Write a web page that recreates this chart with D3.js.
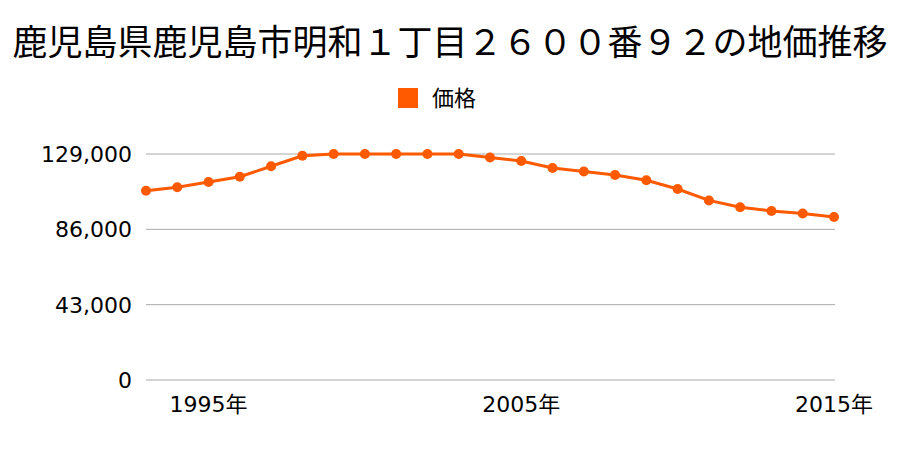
<!DOCTYPE html>
<html><head><meta charset="utf-8">
<script src="https://cdn.jsdelivr.net/npm/d3@7"></script>
<style>body{margin:0;background:#fff;}svg{display:block;}</style>
</head><body>
<svg id="c" width="900" height="450"></svg>
<script>
const title = "鹿児島県鹿児島市明和１丁目２６００番９２の地価推移";
const seriesName = "価格";
const years = [1993,1994,1995,1996,1997,1998,1999,2000,2001,2002,2003,2004,2005,2006,2007,2008,2009,2010,2011,2012,2013,2014,2015];
const prices = [108000,110000,113000,116000,122000,128000,129000,129000,129000,129000,129000,127000,125000,121000,119000,117000,114000,109000,102500,98600,96500,95000,93000];
const yTicks = [0,43000,86000,129000];
const xTickYears = [1995,2005,2015];

const color = "#ff5a00";
const cjk = "'Noto Sans CJK JP', sans-serif";
const num = "'DejaVu Sans', 'Noto Sans CJK JP', sans-serif";
const svg = d3.select("#c");

const x = d3.scaleLinear().domain([1993,2015]).range([146,834]);
const y = d3.scaleLinear().domain([0,129000]).range([380,154]);

svg.append("text").attr("x",450).attr("y",55).attr("text-anchor","middle")
  .attr("font-family",cjk).attr("font-size",35).attr("fill","#000").text(title);

svg.append("rect").attr("x",398).attr("y",88).attr("width",20).attr("height",20).attr("fill",color);
svg.append("text").attr("x",432).attr("y",106).attr("font-family",cjk).attr("font-size",22).attr("fill","#000").text(seriesName);

const gy = svg.append("g");
yTicks.forEach(t=>{
  gy.append("line").attr("x1",146).attr("x2",835).attr("y1",y(t)).attr("y2",y(t)).attr("stroke","#aaaaaa").attr("stroke-width",1);
  gy.append("text").attr("x",132).attr("y",y(t)).attr("dy","0.36em").attr("text-anchor","end")
    .attr("font-family",num).attr("font-size",22).attr("fill","#000").text(d3.format(",")(t));
});

xTickYears.forEach(t=>{
  svg.append("text").attr("x",x(t)).attr("y",412).attr("text-anchor","middle")
    .attr("font-family",num).attr("font-size",22).attr("fill","#000").text(t+"年");
});

const line = d3.line().x((d,i)=>x(years[i])).y(d=>y(d));
svg.append("path").attr("d",line(prices)).attr("fill","none").attr("stroke",color).attr("stroke-width",3);
svg.selectAll("circle.p").data(prices).enter().append("circle")
  .attr("cx",(d,i)=>x(years[i])).attr("cy",d=>y(d)).attr("r",5).attr("fill",color);
</script>
</body></html>
